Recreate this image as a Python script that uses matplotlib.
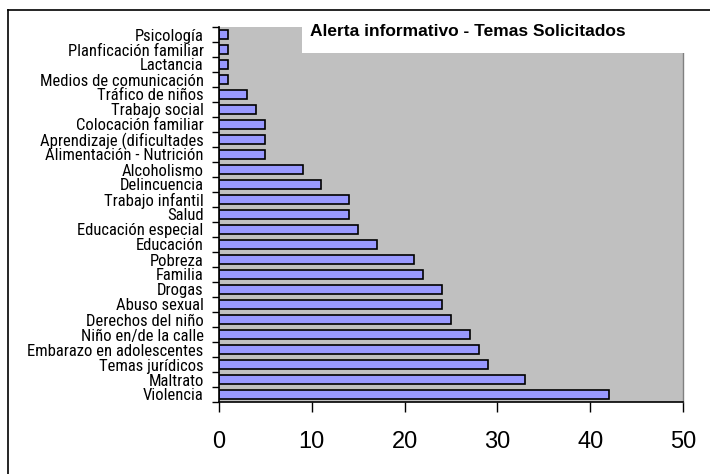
"""
Alerta informativo - temas solicitados (horizontal bars)
"""
import matplotlib
matplotlib.use("Agg")
import matplotlib.pyplot as plt
from matplotlib.patches import Rectangle
from matplotlib.lines import Line2D
import numpy as np

temas = ["Violencia", "Maltrato", "Temas jurídicos", "Embarazo en adolescentes",
         "Niño en/de la calle", "Derechos del niño", "Abuso sexual", "Drogas",
         "Familia", "Pobreza", "Educación", "Educación especial", "Salud",
         "Trabajo infantil", "Delincuencia", "Alcoholismo", "Alimentación - Nutrición",
         "Aprendizaje (dificultades", "Colocación familiar", "Trabajo social",
         "Tráfico de niños", "Medios de comunicación", "Lactancia",
         "Planficación familiar", "Psicología"]
cantidad = [42, 33, 29, 28, 27, 25, 24, 24, 22, 21, 17, 15, 14, 14, 11, 9, 5, 5, 5,
            4, 3, 1, 1, 1, 1]
titulo = "Alerta informativo - Temas Solicitados"

W, H = 710, 474
fig = plt.figure(figsize=(W / 100, H / 100), dpi=100)
ax = fig.add_axes([219 / W, 1 - 402 / H, (683 - 219) / W, (402 - 27) / H])
ax.set_facecolor("#c0c0c0")

y = np.arange(len(temas))
ax.barh(y, cantidad, height=0.6, color="#9999ff", edgecolor="black", linewidth=1.2)
ax.set_ylim(-0.5, len(temas) - 0.5)
ax.set_xlim(0, 50)
ax.set_xticks(range(0, 51, 10))

# category labels centred, tick marks on the boundaries
ax.set_yticks(y)
ax.set_yticklabels(temas, family=["Roboto Condensed", "DejaVu Sans"], fontsize=12)
ax.tick_params(axis="y", which="major", length=0, pad=11)
ax.set_yticks(np.arange(-0.5, len(temas), 1), minor=True)
ax.tick_params(axis="y", which="minor", length=5, width=1, direction="out")
ax.tick_params(axis="x", length=7, width=1, direction="out", pad=14, labelsize=17)
for lab in ax.get_xticklabels():
    lab.set_family("Liberation Sans")

ax.spines["right"].set_color("#808080")
ax.spines["right"].set_linewidth(1)
ax.spines["top"].set_visible(False)
for side in ["left", "bottom"]:
    ax.spines[side].set_linewidth(1.2)

# title box
fig.patches.append(Rectangle((302 / W, 1 - 53 / H), (W - 302) / W, 43 / H,
                             transform=fig.transFigure, facecolor="white",
                             edgecolor="none", zorder=5))
fig.text(310 / W, 1 - 32 / H, titulo, fontsize=12.5, fontweight="bold",
         family="Liberation Sans", va="center", ha="left", zorder=6)

# chart border
fig.lines.append(Line2D([8 / W, 1], [1 - 10 / H, 1 - 10 / H], transform=fig.transFigure,
                        color="black", linewidth=1.2, zorder=6))
fig.lines.append(Line2D([8 / W, 8 / W], [0, 1 - 10 / H], transform=fig.transFigure,
                        color="black", linewidth=1.2, zorder=6))

fig.savefig("out.png", dpi=100)
